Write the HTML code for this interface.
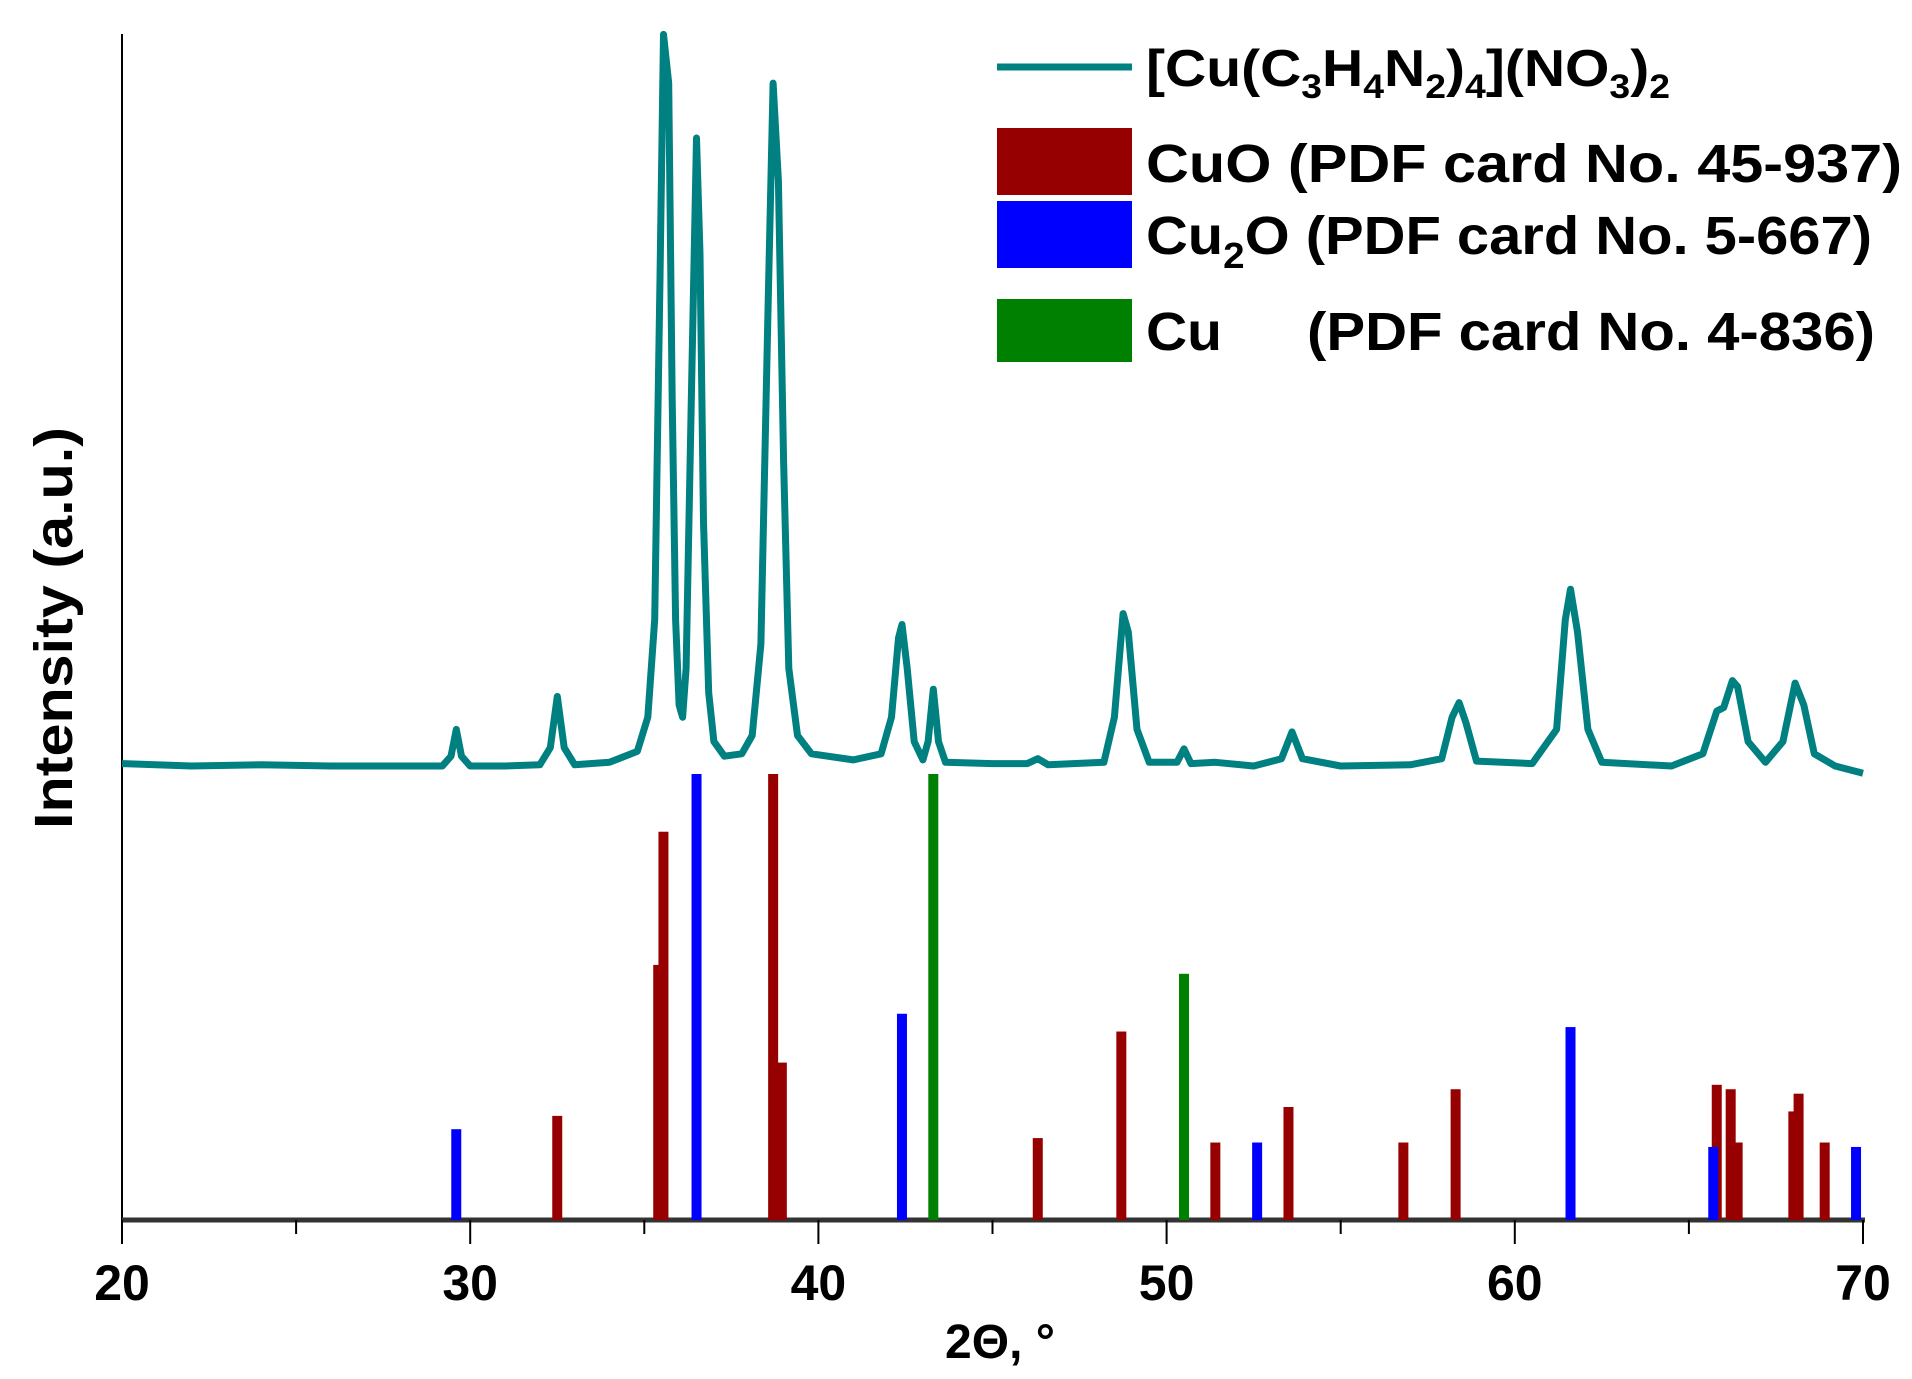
<!DOCTYPE html>
<html><head><meta charset="utf-8"><style>
html,body{margin:0;padding:0;background:#fff;}
svg{display:block;font-family:"Liberation Sans",Arial,sans-serif;font-weight:bold;}
</style></head><body>
<svg id="chart" width="1912" height="1379" viewBox="0 0 1912 1379" xmlns="http://www.w3.org/2000/svg">
<g id="axes"></g>
<g id="sticks"></g>
<g id="curve"></g>
<g id="legend">
  <line x1="997" y1="67" x2="1132" y2="67" stroke="#008080" stroke-width="7"/>
  <text x="1146" y="86" font-size="52" textLength="524" lengthAdjust="spacingAndGlyphs">[Cu(C<tspan font-size="34" dy="12">3</tspan><tspan dy="-12">H</tspan><tspan font-size="34" dy="12">4</tspan><tspan dy="-12">N</tspan><tspan font-size="34" dy="12">2</tspan><tspan dy="-12">)</tspan><tspan font-size="34" dy="12">4</tspan><tspan dy="-12">](NO</tspan><tspan font-size="34" dy="12">3</tspan><tspan dy="-12">)</tspan><tspan font-size="34" dy="12">2</tspan></text>
  <rect x="997" y="128" width="135" height="67" fill="#960000"/>
  <text x="1146" y="182" font-size="54" textLength="756" lengthAdjust="spacingAndGlyphs">CuO  (PDF card No. 45-937)</text>
  <rect x="997" y="201" width="135" height="67" fill="#0000ff"/>
  <text x="1146" y="254" font-size="54" textLength="726" lengthAdjust="spacingAndGlyphs">Cu<tspan font-size="36" dy="14">2</tspan><tspan dy="-14">O (PDF card No. 5-667)</tspan></text>
  <rect x="997" y="299" width="135" height="63" fill="#008000"/>
  <text x="1146" y="350" font-size="54" textLength="76" lengthAdjust="spacingAndGlyphs">Cu</text>
  <text x="1307" y="350" font-size="54" textLength="568" lengthAdjust="spacingAndGlyphs">(PDF card No. 4-836)</text>
</g>
<text transform="translate(72,628) rotate(-90)" text-anchor="middle" font-size="54" textLength="402" lengthAdjust="spacingAndGlyphs">Intensity (a.u.)</text>
<text x="1000" y="1358" text-anchor="middle" font-size="48">2Θ, °</text>
</svg>
<script>
const xTicks = [20,30,40,50,60,70];
const xMinor = [25,35,45,55,65];
const cu2oPos = [29.6,36.5,42.4,52.6,61.6,65.7,69.8];
const cu2oInt = [20,100,46,17,43,16,16];
const cuoPos = [32.5,35.4,35.55,38.7,38.95,46.3,48.7,51.4,53.5,56.8,58.3,65.8,66.2,66.4,68.0,68.15,68.9];
const cuoInt = [23,57,87,100,35,18,42,17,25,17,29,30,29,17,24,28,17];
const cuPos = [43.3,50.5];
const cuInt = [100,55];
const pattern2T = [20,22,24,26,28,29.2,29.45,29.6,29.75,30,31,32,32.3,32.5,32.7,33,34,34.8,35.1,35.3,35.45,35.55,35.7,35.8,35.9,36,36.1,36.2,36.35,36.5,36.6,36.7,36.85,37,37.3,37.8,38.1,38.35,38.55,38.7,38.85,39,39.15,39.4,39.8,41,41.8,42.1,42.3,42.4,42.55,42.75,43,43.15,43.3,43.45,43.65,45,46,46.3,46.6,48.2,48.5,48.75,48.9,49.15,49.5,50.3,50.5,50.7,51.4,52.5,53.3,53.6,53.9,55,57,57.9,58.2,58.4,58.6,58.9,60.5,61.2,61.45,61.6,61.8,62.1,62.5,64.5,65.4,65.8,66,66.25,66.4,66.7,67.2,67.7,68.05,68.3,68.6,69.2,70];
const patternI = [2,0,1,0,0,0,8,30,8,0,0,1,15,57,15,1,3,12,40,120,400,600,560,300,120,50,40,80,300,515,420,200,60,20,8,10,25,100,370,560,480,250,80,25,10,5,10,40,105,116,80,20,5,20,63,20,3,2,2,6,1,3,40,125,110,30,3,3,14,2,3,0,6,28,6,0,1,6,40,52,35,4,2,30,120,145,110,30,3,0,10,45,48,70,65,20,3,20,68,50,10,0,-6];

const NS='http://www.w3.org/2000/svg';
const X0=122,X1=1863,BASE=1220;
const xs=t=>X0+(t-20)*(X1-X0)/50;
const stickY=p=>1218-p/100*444;
const curveY=v=>766-v*1.2194;
function mk(tag,attrs,parent){const e=document.createElementNS(NS,tag);for(const k in attrs)e.setAttribute(k,attrs[k]);parent.appendChild(e);return e;}
const axes=document.getElementById('axes');
let yl=mk('line',{x1:X0,y1:34,x2:X0,y2:BASE,stroke:'#000','stroke-width':2},axes);


let xl=mk('line',{x1:X0,y1:BASE,x2:X1+2,y2:BASE,stroke:'#333','stroke-width':5},axes);


xTicks.forEach(t=>{
 const l=mk('line',{x1:xs(t),y1:BASE,x2:xs(t),y2:1244,stroke:'#000','stroke-width':2},axes);
 
 
 const tx=mk('text',{x:xs(t),y:1300,'text-anchor':'middle','font-size':50},axes);
 tx.textContent=t;
 
 
});
xMinor.forEach(t=>{
 const l=mk('line',{x1:xs(t),y1:BASE,x2:xs(t),y2:1234,stroke:'#000','stroke-width':2},axes);
 
 
});
const sticks=document.getElementById('sticks');
function drawSticks(pos,ints,color,name){
 pos.forEach((p,i)=>{
  const y=stickY(ints[i]);
  const r=mk('rect',{x:xs(p)-5,y:y,width:10,height:BASE-y,fill:color},sticks);
  
  
 });
}
drawSticks(cuoPos,cuoInt,'#960000','cuo-stick');
drawSticks(cu2oPos,cu2oInt,'#0000ff','cu2o-stick');
drawSticks(cuPos,cuInt,'#008000','cu-stick');
const d=pattern2T.map((t,i)=>(i?'L':'M')+xs(t).toFixed(1)+','+curveY(patternI[i]).toFixed(1)).join(' ');
const p=mk('path',{d:d,fill:'none',stroke:'#008080','stroke-width':7,'stroke-linejoin':'round'},document.getElementById('curve'));


</script>
</body></html>
